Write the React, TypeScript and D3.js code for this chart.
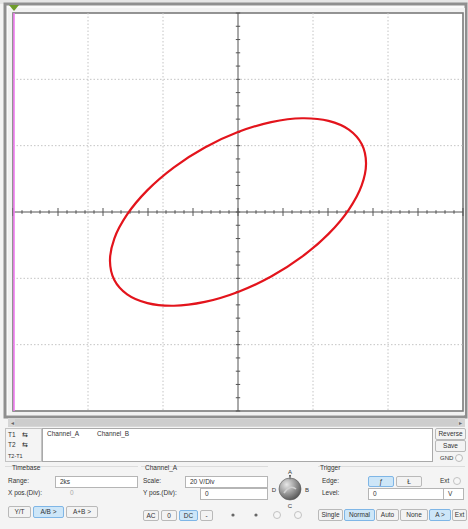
import React from "react";
import * as d3 from "d3";

// Lissajous trace (units: divisions, X = Channel_A, Y = Channel_B)
const traceX = [0, 0.442, 0.854, 1.207, 1.478, 1.649, 1.707, 1.649, 1.478, 1.207, 0.854, 0.442,
  0, -0.442, -0.854, -1.207, -1.478, -1.649, -1.707, -1.649, -1.478, -1.207, -0.854, -0.442];
const traceY = [1.205, 1.355, 1.413, 1.374, 1.242, 1.025, 0.738, 0.401, 0.037, -0.33, -0.674, -0.973,
  -1.205, -1.355, -1.413, -1.374, -1.242, -1.025, -0.738, -0.401, -0.037, 0.33, 0.674, 0.973];

const gridDivs = [-3, -2, -1, 0, 1, 2, 3];
const channelLabels = ["Channel_A", "Channel_B"];
const timebaseRange = "2ks";
const chAScale = "20 V/Div";
const chAYpos = "0";
const triggerLevel = "0";

const W = 468, H = 529;
const FONT = "'Liberation Sans', 'DejaVu Sans', Arial, sans-serif";

function Btn({ x, y, w, h, label, active = false, fs = 6.5 }: any) {
  return (
    <g>
      <rect x={x + 0.5} y={y + 0.5} width={w} height={h} rx={1.5}
        fill={active ? "#cde6f8" : "#f3f3f3"} stroke={active ? "#7fb6e6" : "#b9b9b9"} />
      <text x={x + w / 2 + 0.5} y={y + h / 2 + 2.6} fontSize={fs} textAnchor="middle" fill="#333" fontFamily={FONT}>{label}</text>
    </g>
  );
}

function Input({ x, y, w, h, value, grey = false }: any) {
  return (
    <g>
      <rect x={x + 0.5} y={y + 0.5} width={w} height={h} fill="#fff" stroke="#b5b5b5" />
      <text x={x + 5} y={y + h / 2 + 2.6} fontSize={6.5} fill={grey ? "#aaa" : "#333"} fontFamily={FONT}>{value}</text>
    </g>
  );
}

function Lbl({ x, y, t, fs = 6.5, fill = "#333", anchor = "start" }: any) {
  return <text x={x} y={y} fontSize={fs} fill={fill} fontFamily={FONT} textAnchor={anchor}>{t}</text>;
}

export default function App() {
  const x = d3.scaleLinear().domain([-3, 3]).range([13, 463]);
  const y = d3.scaleLinear().domain([-3, 3]).range([411, 13]);

  const pts: [number, number][] = traceX.map((v, i) => [x(v), y(traceY[i])]);
  const line = d3.line().curve(d3.curveCatmullRomClosed.alpha(0.5));
  const tracePath = line(pts) || "";

  const hTicks = d3.range(-3, 3.0001, 0.12);
  const vTicks = d3.range(-3, 3.0001, 0.2);

  return (
    <svg width={W} height={H} viewBox={`0 0 ${W} ${H}`} style={{ position: "absolute", left: 0, top: 0 }}>
      <rect x={0} y={0} width={W} height={H} fill="#f4f4f4" />
      {/* screen frame */}
      <rect x={0} y={0} width={W} height={4} fill="#e6e6e6" />
      <rect x={5} y={4} width={461} height={413} fill="#fafafa" stroke="#8f8f8f" strokeWidth={3} />
      <rect x={8} y={8} width={457} height={407} fill="#f2f2f2" />
      <rect x={x(-3)} y={y(3)} width={x(3) - x(-3)} height={y(-3) - y(3)} fill="#ffffff" stroke="#7a7a7a" strokeWidth={1.6} />

      {/* dotted grid */}
      {gridDivs.filter(d => d !== 0 && Math.abs(d) !== 3).map(d => (
        <g key={"g" + d}>
          <line x1={x(d)} x2={x(d)} y1={y(3)} y2={y(-3)} stroke="#c4c4c4" strokeDasharray="1.5,2" />
          <line x1={x(-3)} x2={x(3)} y1={y(d)} y2={y(d)} stroke="#c4c4c4" strokeDasharray="1.5,2" />
        </g>
      ))}

      {/* centre axes with ticks */}
      <line x1={x(-3)} x2={x(3)} y1={y(0)} y2={y(0)} stroke="#555" strokeWidth={1} />
      <line x1={x(0)} x2={x(0)} y1={y(3)} y2={y(-3)} stroke="#555" strokeWidth={1} />
      {hTicks.map((t, i) => {
        const major = Math.abs(Math.round(t / 0.6) * 0.6 - t) < 1e-6;
        const h = major ? 4 : 1.8;
        return <line key={"ht" + i} x1={x(t)} x2={x(t)} y1={y(0) - h} y2={y(0) + h} stroke="#555" strokeWidth={1} />;
      })}
      {vTicks.map((t, i) => (
        <line key={"vt" + i} x1={x(0) - 2.2} x2={x(0) + 2.2} y1={y(t)} y2={y(t)} stroke="#555" strokeWidth={1} />
      ))}

      {/* trace */}
      <path d={tracePath} fill="none" stroke="#e3141c" strokeWidth={2.2} />

      {/* cursor 1 */}
      <line x1={14} x2={14} y1={y(3)} y2={y(-3)} stroke="#f07cf0" strokeWidth={1.6} />
      <path d="M9,5 L19,5 L14,11 Z" fill="#6f9c2b" />

      {/* scrollbar */}
      <rect x={8} y={418} width={457} height={9} fill="#d6d6d6" />
      <rect x={15} y={419} width={443} height={7} fill="#cdcdcd" />
      <Lbl x={11} y={425} t="◂" fs={6} fill="#666" />
      <Lbl x={459} y={425} t="▸" fs={6} fill="#666" />

      {/* cursor readout */}
      <rect x={5.5} y={428.5} width={36} height={33} fill="#f4f4f4" stroke="#c3c3c3" />
      <Lbl x={8} y={437} t="T1" />
      <Lbl x={22} y={437} t="⇆" fs={7} fill="#222" />
      <Lbl x={8} y={447} t="T2" />
      <Lbl x={22} y={447} t="⇆" fs={7} fill="#222" />
      <Lbl x={8} y={458} t="T2-T1" fs={5.5} />
      <rect x={42.5} y={428.5} width={390} height={33} fill="#fff" stroke="#a9a9a9" />
      <Lbl x={47} y={436} t={channelLabels[0]} />
      <Lbl x={97} y={436} t={channelLabels[1]} />
      <Btn x={435} y={428} w={30} h={11} label="Reverse" />
      <Btn x={435} y={440} w={30} h={11} label="Save" />
      <Lbl x={440} y={460} t="GND" fs={6} />
      <circle cx={459} cy={458} r={3.5} fill="#f8f8f8" stroke="#bbb" />

      {/* timebase */}
      <line x1={5} x2={138} y1={466.5} y2={466.5} stroke="#dcdcdc" />
      <Lbl x={12} y={470} t="Timebase" />
      <Lbl x={8} y={483} t="Range:" />
      <Input x={55} y={476} w={82} h={11} value={timebaseRange} />
      <Lbl x={8} y={495} t="X pos.(Div):" />
      <Lbl x={70} y={495} t="0" fill="#aaa" />
      <Btn x={8} y={506} w={22} h={11} label="Y/T" />
      <Btn x={33} y={506} w={30} h={11} label="A/B >" active />
      <Btn x={66} y={506} w={31} h={11} label="A+B >" />

      {/* channel A */}
      <line x1={141} x2={268} y1={466.5} y2={466.5} stroke="#dcdcdc" />
      <Lbl x={145} y={470} t={channelLabels[0]} />
      <Lbl x={143} y={483} t="Scale:" />
      <Input x={185} y={476} w={82} h={11} value={chAScale} />
      <Lbl x={143} y={495} t="Y pos.(Div):" />
      <Input x={200} y={488} w={67} h={11} value={chAYpos} />
      <Btn x={143} y={510} w={15} h={10} label="AC" />
      <Btn x={161} y={510} w={15} h={10} label="0" />
      <Btn x={179} y={510} w={18} h={10} label="DC" active />
      <Btn x={200} y={510} w={12} h={10} label="-" />

      {/* knob */}
      <defs>
        <radialGradient id="knob" cx="0.35" cy="0.3" r="0.8">
          <stop offset="0" stopColor="#e8e8e8" />
          <stop offset="0.6" stopColor="#8a8a8a" />
          <stop offset="1" stopColor="#4a4a4a" />
        </radialGradient>
      </defs>
      <circle cx={290} cy={489} r={11} fill="url(#knob)" stroke="#555" strokeWidth={0.6} />
      <path d="M284,493 Q290,484 296,489" fill="none" stroke="#d0d0d0" strokeWidth={1.6} />
      <path d="M289,475 L291,475 L290,480 Z" fill="#555" />
      <Lbl x={290} y={474} t="A" fs={6} anchor="middle" />
      <Lbl x={307} y={492} t="B" fs={6} anchor="middle" />
      <Lbl x={290} y={508} t="C" fs={6} anchor="middle" />
      <Lbl x={274} y={492} t="D" fs={6} anchor="middle" />
      <circle cx={233} cy={515} r={1.6} fill="#666" />
      <circle cx={256} cy={515} r={1.6} fill="#666" />
      <circle cx={277} cy={515} r={3.5} fill="#f6f6f6" stroke="#c2c2c2" />
      <circle cx={298} cy={515} r={3.5} fill="#f6f6f6" stroke="#c2c2c2" />

      {/* trigger */}
      <line x1={318} x2={465} y1={466.5} y2={466.5} stroke="#dcdcdc" />
      <Lbl x={320} y={470} t="Trigger" />
      <Lbl x={322} y={483} t="Edge:" />
      <Btn x={368} y={476} w={25} h={10} label="ƒ" active />
      <Btn x={396} y={476} w={25} h={10} label="Ł" />
      <Lbl x={440} y={483} t="Ext" />
      <circle cx={457} cy={481} r={3.5} fill="#f6f6f6" stroke="#c2c2c2" />
      <Lbl x={322} y={495} t="Level:" />
      <Input x={368} y={488} w={75} h={11} value={triggerLevel} />
      <Input x={443} y={488} w={20} h={11} value="V" />
      <Btn x={318} y={509} w={24} h={11} label="Single" />
      <Btn x={344} y={509} w={30} h={11} label="Normal" active />
      <Btn x={376} y={509} w={22} h={11} label="Auto" />
      <Btn x={400} y={509} w={27} h={11} label="None" />
      <Btn x={429} y={509} w={21} h={11} label="A >" active />
      <Btn x={452} y={509} w={14} h={11} label="Ext" />
    </svg>
  );
}
